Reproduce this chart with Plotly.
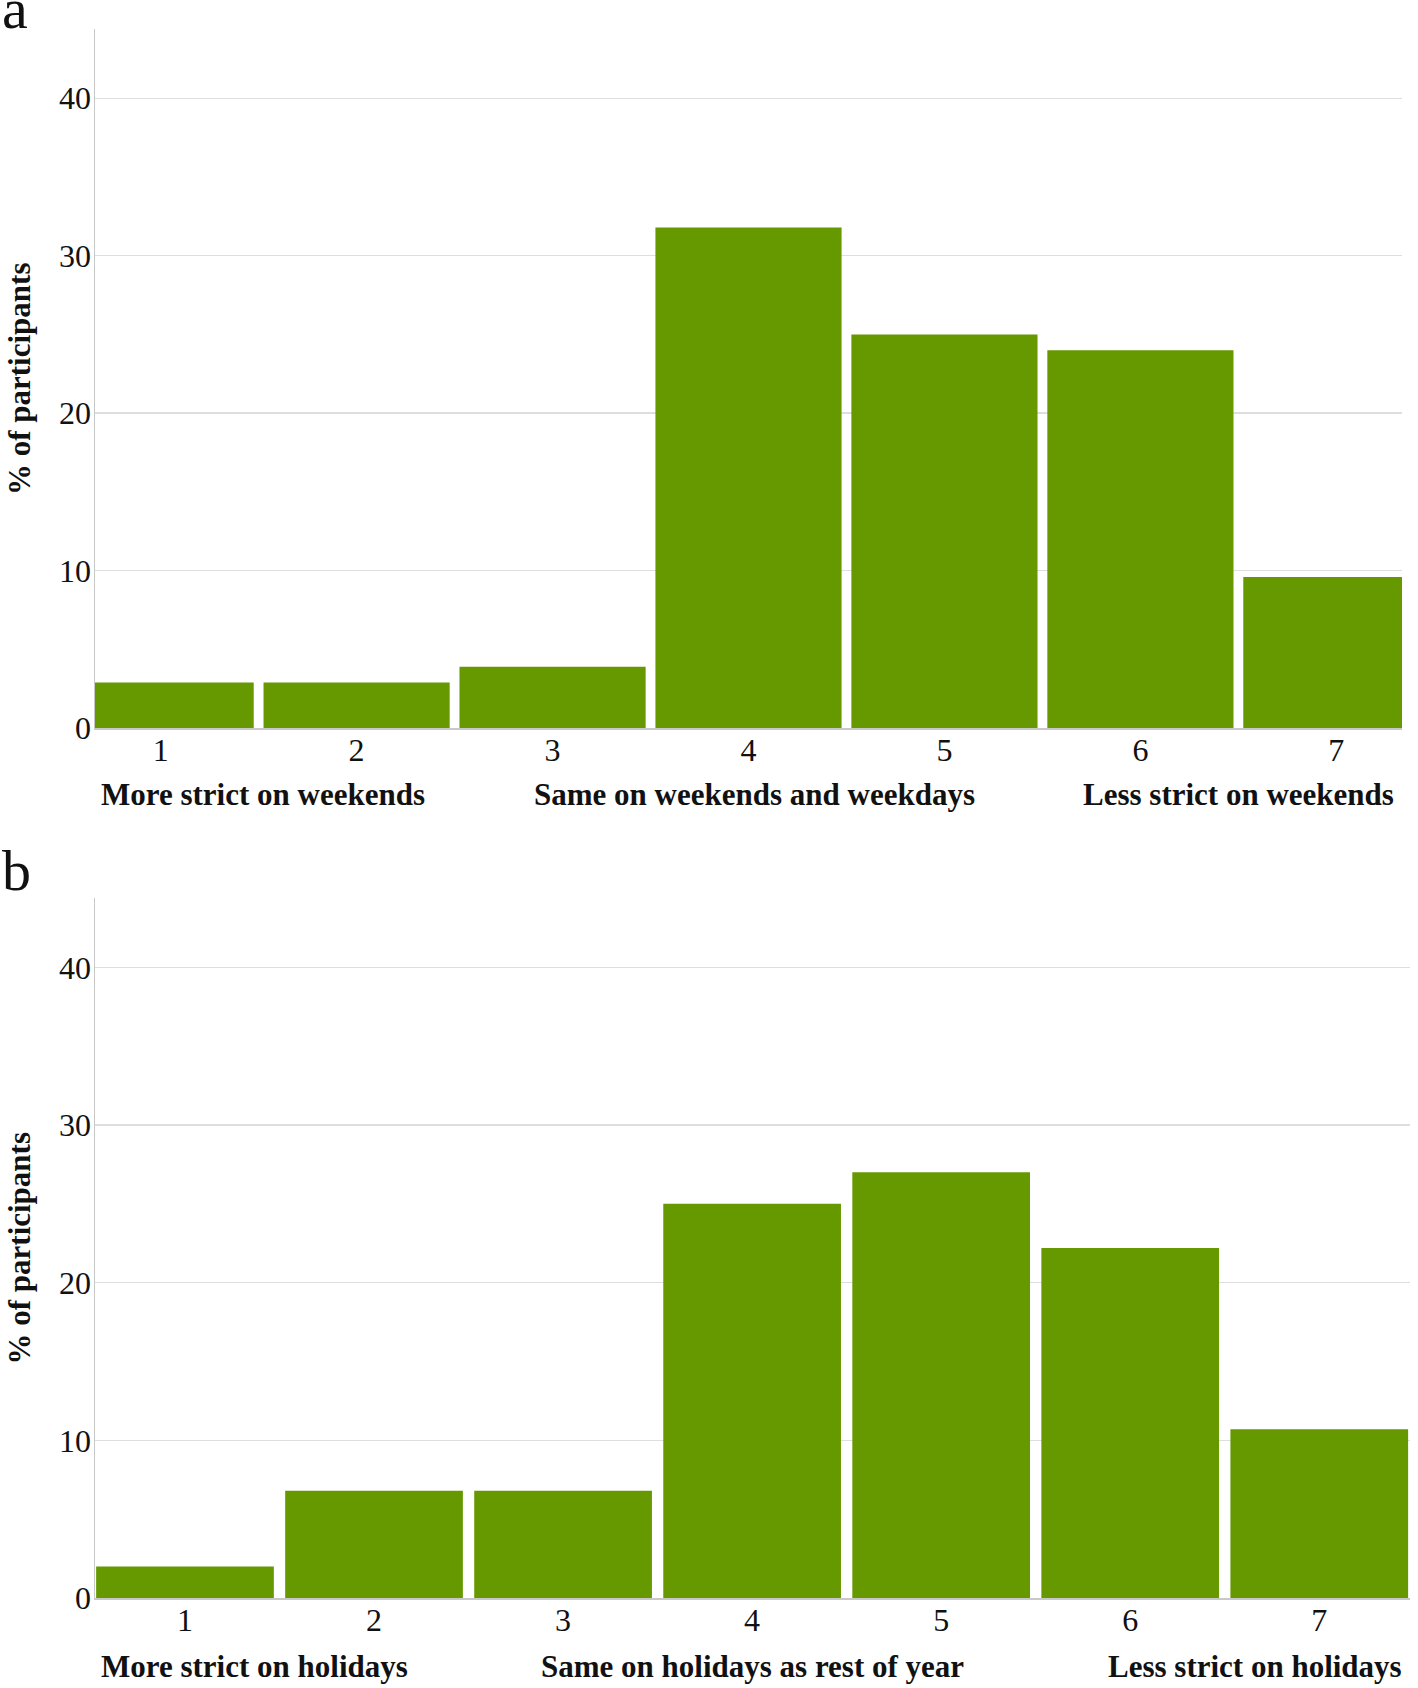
import plotly.graph_objects as go

# ---- data ----
categories = [1, 2, 3, 4, 5, 6, 7]
weekend_pct = [2.9, 2.9, 3.9, 31.8, 25.0, 24.0, 9.6]
holiday_pct = [2.0, 6.8, 6.8, 25.0, 27.0, 22.2, 10.7]
y_ticks = [0, 10, 20, 30, 40]
weekend_labels = ["More strict on weekends", "Same on weekends and weekdays", "Less strict on weekends"]
holiday_labels = ["More strict on holidays", "Same on holidays as rest of year", "Less strict on holidays"]
panel_letters = ["a", "b"]
y_title = "% of participants"

W, H = 1418, 1688
FIG_H = 1704
BAR = "#669900"
SERIF = "Liberation Serif, Times New Roman, serif"

def py(px):
    return 1 - px / H

def px_(x):
    return x / W

fig = go.Figure()
fig.add_trace(go.Bar(x=categories, y=weekend_pct, marker=dict(color=BAR, line=dict(width=0)),
                     width=0.95, xaxis="x", yaxis="y", showlegend=False, hoverinfo="skip"))
fig.add_trace(go.Bar(x=categories, y=holiday_pct, marker=dict(color=BAR, line=dict(width=0)),
                     width=0.94, xaxis="x2", yaxis="y2", showlegend=False, hoverinfo="skip"))

xa_ranges = [[0.665, 7.335], [0.524, 7.48]]
x_domains = [[px_(95), px_(1402)], [px_(95), px_(1410)]]
y_domains = [[py(729), py(29)], [py(1600), py(899)]]

common_x = dict(tickmode="array", tickvals=categories, ticktext=[str(c) for c in categories],
                showgrid=False, zeroline=False, showline=True, linecolor="#c8c8c8", linewidth=1.5,
                ticks="", ticklabelstandoff=-7,
                tickfont=dict(family=SERIF, size=32, color="#111"), fixedrange=True)
common_y = dict(tickmode="array", tickvals=y_ticks, ticktext=[str(t) for t in y_ticks], range=[0, 44.4],
                showgrid=True, gridcolor="#dedede", gridwidth=1.5, zeroline=False,
                showline=True, linecolor="#c8c8c8", linewidth=1.5, ticks="", ticklabelstandoff=-4,
                tickfont=dict(family=SERIF, size=32, color="#111"), fixedrange=True)

fig.update_layout(
    width=W, height=FIG_H, margin=dict(l=0, r=0, t=0, b=0),
    paper_bgcolor="white", plot_bgcolor="white", bargap=0.05, hovermode=False,
    xaxis=dict(common_x, domain=x_domains[0], range=xa_ranges[0], anchor="y"),
    yaxis=dict(common_y, domain=y_domains[0], anchor="x"),
    xaxis2=dict(common_x, domain=x_domains[1], range=xa_ranges[1], anchor="y2"),
    yaxis2=dict(common_y, domain=y_domains[1], anchor="x2"),
)

annotations = []
label_sets = [weekend_labels, holiday_labels]
label_y = [py(795), py(1668)]
mid_shift = [6, 0]
for i, (labels, xr) in enumerate(zip(label_sets, xa_ranges)):
    xref = "x" if i == 0 else "x2"
    f = dict(family=SERIF, size=31, color="#111")
    annotations.append(dict(x=xr[0], y=label_y[i], xref=xref, yref="paper", text="<b>%s</b>" % labels[0],
                            xanchor="left", yanchor="middle", showarrow=False, font=f, xshift=4))
    annotations.append(dict(x=4, y=label_y[i], xref=xref, yref="paper", text="<b>%s</b>" % labels[1],
                            xanchor="center", yanchor="middle", showarrow=False, font=f, xshift=mid_shift[i]))
    annotations.append(dict(x=xr[1], y=label_y[i], xref=xref, yref="paper", text="<b>%s</b>" % labels[2],
                            xanchor="right", yanchor="middle", showarrow=False, font=f, xshift=-6))
    yc = (y_domains[i][0] + y_domains[i][1]) / 2
    annotations.append(dict(x=0, y=yc, xref="paper", yref="paper", text="<b>%s</b>" % y_title,
                            textangle=-90, xanchor="left", yanchor="middle", showarrow=False, font=f,
                            xshift=0))

letter_y = [py(43), py(906)]
for i, L in enumerate(panel_letters):
    annotations.append(dict(x=0, y=letter_y[i], xref="paper", yref="paper", text=L,
                            xanchor="left", yanchor="bottom", showarrow=False,
                            font=dict(family=SERIF, size=58, color="#111")))

fig.update_layout(annotations=annotations)
page_css = ("var s='margin:0;padding:0;overflow:hidden;';"
            "document.documentElement.style.cssText=s;document.body.style.cssText=s;")
fig.write_html("out.html", config={"displayModeBar": False, "staticPlot": True}, post_script=page_css)
